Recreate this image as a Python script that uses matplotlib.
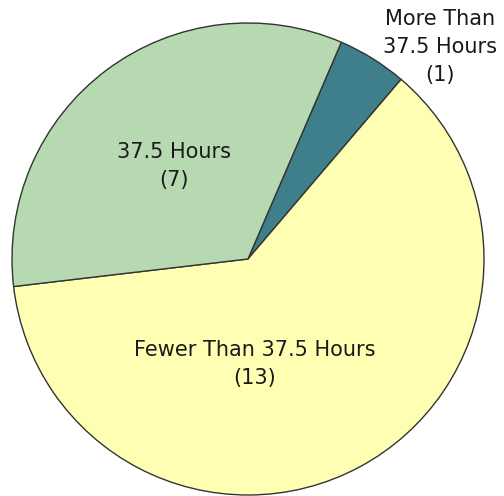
import matplotlib
matplotlib.use('Agg')
import matplotlib.pyplot as plt

labels = ['More Than\n37.5 Hours', 'Fewer Than 37.5 Hours', '37.5 Hours']
counts = [1, 13, 7]
colors = ['#3f7f8c', '#ffffb4', '#b6d9b2']
# label anchor points, in pixels from top-left of the image
label_xy = [(440, 47), (255, 364), (174, 166)]

W, H = 504, 496
fig = plt.figure(figsize=(W / 100, H / 100), dpi=100)
ax = fig.add_axes([0, 0, 1, 1])

start = 90 - 23.3  # first slice edge, measured clockwise from top
ax.pie(counts, colors=colors, startangle=start, counterclock=False,
       center=(248, H - 259), radius=236,
       wedgeprops=dict(edgecolor='#333333', linewidth=1.0))

for lab, n, (x, y) in zip(labels, counts, label_xy):
    ax.text(x, H - y, '{}\n({})'.format(lab, n), ha='center', va='center',
            fontsize=15, color='#1a1a1a', linespacing=1.5,
            family='DejaVu Sans')

ax.set_xlim(0, W)
ax.set_ylim(0, H)
ax.set_aspect('equal')
ax.axis('off')
fig.savefig('out.png', dpi=100, facecolor='white')
